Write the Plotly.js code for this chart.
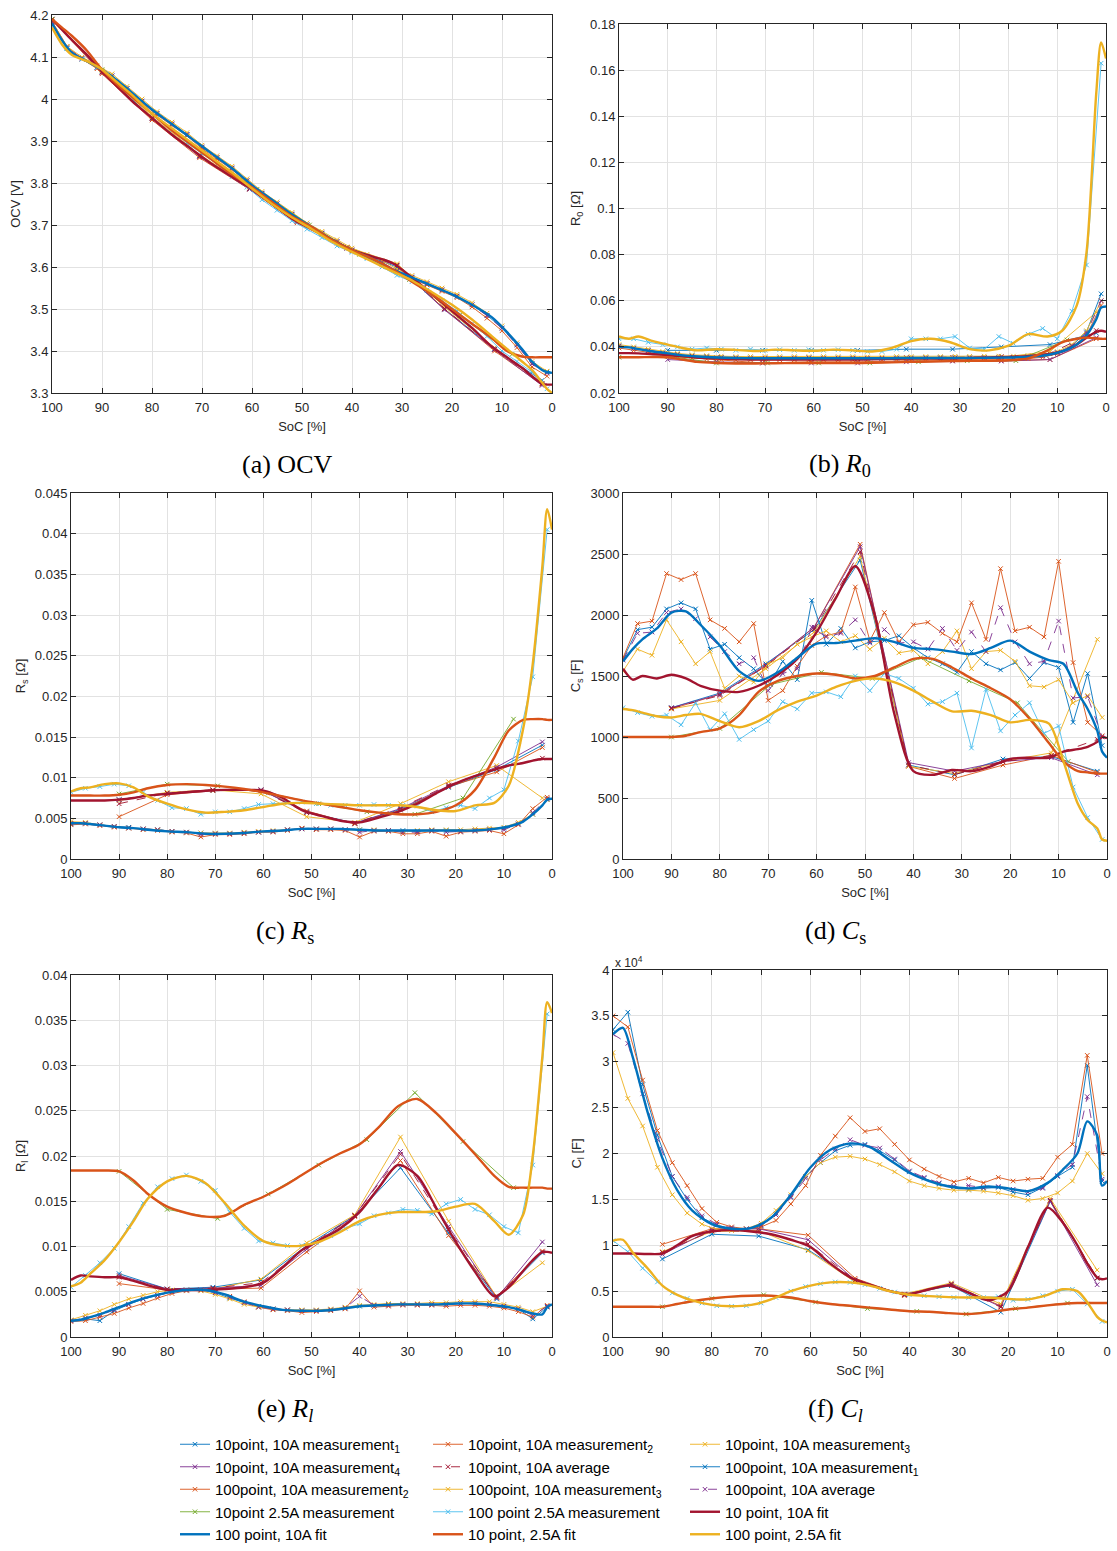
<!DOCTYPE html>
<html>
<head>
<meta charset="utf-8">
<script src="https://cdn.plot.ly/plotly-3.0.1.min.js"></script>
<style>html,body{margin:0;padding:0;background:#fff;}#chart{width:1117px;height:1551px;}</style>
</head>
<body>
<div id="chart"></div>
<script>
// ---------------- shared x (SoC) grids ----------------
const SOC100 = [100,97,94,91,88,85,82,79,76,73,70,67,64,61,58,55,52,49,46,43,40,37,34,31,28,25,22,19,16,13,10,7,4,1];
const SOC10 = [90,80,70.5,60.5,51,41,31.5,21.5,11.5,2];
const SOC10_OCV = [100,90,80,70.5,60.5,51,41,31,21.5,11.5,2];
const SOCG = [100,90,80,69.5,59,48.5,38.5,28.5,18.5,8];
const FITX = [100,98,96,93,90,87,84,80,76,72,68,64,60,56,52,48,44,40,36,32,28,24,20,16,12,9,6,4,2,1,0];

const SERIES_NAMES = [
  '10point, 10A measurement<sub>1</sub>','10point, 10A measurement<sub>2</sub>','10point, 10A measurement<sub>3</sub>',
  '10point, 10A measurement<sub>4</sub>','10point, 10A average','100point, 10A measurement<sub>1</sub>',
  '100point, 10A measurement<sub>2</sub>','100point, 10A measurement<sub>3</sub>','100point, 10A average',
  '10point 2.5A measurement','100 point 2.5A measurement','10 point, 10A fit',
  '100 point, 10A fit','10 point, 2.5A fit','100 point, 2.5A fit'
];

// ---------------- (a) OCV ----------------
const ocv_p10_m1 = [4.190,4.065,3.955,3.865,3.787,3.710,3.645,3.600,3.500,3.405,3.330];
const ocv_p10_m2 = [4.190,4.060,3.950,3.860,3.785,3.705,3.645,3.605,3.500,3.400,3.320];
const ocv_p10_m3 = [4.188,4.068,3.958,3.868,3.790,3.712,3.648,3.608,3.505,3.408,3.322];
const ocv_p10_m4 = [4.190,4.063,3.953,3.863,3.785,3.708,3.645,3.603,3.498,3.403,3.318];
const ocv_p10_avg = [4.190,4.064,3.954,3.864,3.787,3.709,3.646,3.604,3.501,3.404,3.322];
const ocv_p100_m1 = [4.180,4.120,4.095,4.075,4.055,4.025,3.995,3.965,3.940,3.915,3.885,3.860,3.835,3.805,3.775,3.750,3.725,3.700,3.680,3.660,3.640,3.625,3.610,3.590,3.575,3.560,3.545,3.530,3.510,3.485,3.455,3.415,3.370,3.350];
const ocv_p100_m2 = [4.185,4.125,4.095,4.072,4.050,4.020,3.990,3.962,3.937,3.912,3.882,3.857,3.832,3.802,3.772,3.747,3.722,3.698,3.677,3.657,3.638,3.622,3.607,3.588,3.572,3.557,3.542,3.527,3.505,3.478,3.448,3.408,3.362,3.340];
const ocv_p100_m3 = [4.185,4.125,4.100,4.080,4.060,4.030,4.000,3.970,3.945,3.920,3.890,3.865,3.840,3.810,3.780,3.755,3.730,3.705,3.685,3.665,3.645,3.630,3.615,3.595,3.580,3.565,3.550,3.535,3.515,3.490,3.460,3.420,3.375,3.352];
const ocv_p100_avg = [4.183,4.122,4.097,4.076,4.055,4.025,3.995,3.966,3.941,3.916,3.886,3.861,3.836,3.806,3.776,3.751,3.726,3.701,3.681,3.661,3.641,3.626,3.611,3.591,3.576,3.561,3.546,3.531,3.510,3.484,3.454,3.414,3.369,3.347];
const ocv_g = [4.190,4.070,3.965,3.872,3.785,3.700,3.630,3.570,3.485,3.392];
const ocv_p100_25A = [4.170,4.120,4.095,4.075,4.050,4.020,3.985,3.955,3.925,3.895,3.870,3.845,3.815,3.790,3.760,3.735,3.710,3.690,3.670,3.650,3.635,3.620,3.600,3.580,3.565,3.545,3.520,3.495,3.465,3.435,3.400,3.375,3.350,3.310];
const ocv_f10_10A = [4.190,4.165,4.140,4.105,4.065,4.030,3.995,3.955,3.915,3.880,3.845,3.815,3.785,3.750,3.715,3.690,3.665,3.640,3.625,3.610,3.575,3.535,3.495,3.455,3.410,3.385,3.360,3.340,3.322,3.320,3.320];
const ocv_f100_10A = [4.180,4.140,4.110,4.090,4.070,4.045,4.015,3.975,3.940,3.905,3.870,3.835,3.795,3.760,3.725,3.695,3.665,3.640,3.620,3.595,3.575,3.555,3.535,3.510,3.480,3.445,3.405,3.375,3.355,3.350,3.348];
const ocv_f10_25A = [4.190,4.170,4.150,4.115,4.070,4.035,4.005,3.965,3.925,3.890,3.855,3.820,3.790,3.755,3.720,3.695,3.665,3.640,3.620,3.595,3.565,3.535,3.500,3.465,3.430,3.400,3.387,3.385,3.385,3.385,3.385];
const ocv_f100_25A = [4.170,4.130,4.105,4.090,4.070,4.040,4.010,3.965,3.930,3.895,3.860,3.825,3.787,3.750,3.718,3.690,3.660,3.636,3.613,3.590,3.568,3.540,3.510,3.475,3.435,3.405,3.375,3.355,3.325,3.310,3.300];

// ---------------- (b) R0 ----------------
const r0_p10_m1 = [0.0385,0.0385,0.0385,0.0385,0.0385,0.0390,0.0390,0.0400,0.0410,0.0460];
const r0_p10_m2 = [0.0360,0.0345,0.0330,0.0335,0.0335,0.0340,0.0340,0.0340,0.0345,0.0435];
const r0_p10_m3 = [0.0360,0.0350,0.0345,0.0345,0.0345,0.0350,0.0350,0.0355,0.0380,0.0550];
const r0_p10_m4 = [0.0345,0.0335,0.0330,0.0330,0.0330,0.0335,0.0338,0.0338,0.0345,0.0440];
const r0_p10_avg = [0.0363,0.0354,0.0348,0.0349,0.0349,0.0354,0.0355,0.0358,0.0370,0.0471];
const r0_p100_m1 = [0.0405,0.0395,0.0385,0.0375,0.0368,0.0362,0.0358,0.0355,0.0353,0.0352,0.0352,0.0352,0.0352,0.0353,0.0352,0.0352,0.0352,0.0351,0.0351,0.0352,0.0352,0.0353,0.0353,0.0353,0.0353,0.0354,0.0354,0.0355,0.0357,0.0362,0.0375,0.0405,0.0465,0.0630];
const r0_p100_m2 = [0.0395,0.0385,0.0375,0.0365,0.0358,0.0352,0.0347,0.0345,0.0344,0.0344,0.0344,0.0344,0.0344,0.0344,0.0344,0.0344,0.0344,0.0344,0.0344,0.0344,0.0344,0.0345,0.0345,0.0345,0.0345,0.0346,0.0346,0.0347,0.0349,0.0355,0.0370,0.0400,0.0450,0.0580];
const r0_p100_m3 = [0.0410,0.0400,0.0390,0.0380,0.0372,0.0366,0.0362,0.0360,0.0358,0.0358,0.0358,0.0358,0.0358,0.0358,0.0358,0.0358,0.0358,0.0357,0.0357,0.0358,0.0358,0.0358,0.0358,0.0359,0.0359,0.0360,0.0360,0.0360,0.0362,0.0367,0.0380,0.0410,0.0470,0.0600];
const r0_p100_avg = [0.0403,0.0393,0.0383,0.0373,0.0366,0.0360,0.0356,0.0353,0.0352,0.0351,0.0351,0.0351,0.0351,0.0352,0.0351,0.0351,0.0351,0.0351,0.0351,0.0351,0.0351,0.0352,0.0352,0.0352,0.0352,0.0353,0.0353,0.0354,0.0356,0.0361,0.0375,0.0405,0.0460,0.0600];
const r0_g = [0.0355,0.0360,0.0330,0.0330,0.0330,0.0330,0.0335,0.0340,0.0340,0.0430];
const r0_p100_25A = [0.0435,0.0435,0.0420,0.0410,0.0400,0.0390,0.0395,0.0390,0.0385,0.0390,0.0385,0.0388,0.0385,0.0388,0.0385,0.0388,0.0385,0.0380,0.0380,0.0390,0.0435,0.0435,0.0435,0.0445,0.0395,0.0390,0.0445,0.0415,0.0455,0.0480,0.0435,0.0555,0.0755,0.1630];
const r0_f10_10A = [0.0373,0.0373,0.0372,0.0368,0.0365,0.0360,0.0354,0.0350,0.0347,0.0345,0.0345,0.0345,0.0345,0.0345,0.0345,0.0346,0.0348,0.0350,0.0350,0.0350,0.0352,0.0354,0.0356,0.0360,0.0368,0.0380,0.0410,0.0440,0.0465,0.0470,0.0465];
const r0_f100_10A = [0.0400,0.0398,0.0390,0.0380,0.0372,0.0363,0.0358,0.0354,0.0352,0.0351,0.0351,0.0351,0.0351,0.0351,0.0351,0.0351,0.0351,0.0352,0.0352,0.0352,0.0352,0.0353,0.0354,0.0357,0.0365,0.0380,0.0410,0.0450,0.0520,0.0570,0.0575];
const r0_f10_25A = [0.0355,0.0355,0.0355,0.0356,0.0355,0.0345,0.0335,0.0330,0.0328,0.0328,0.0329,0.0330,0.0330,0.0330,0.0330,0.0331,0.0333,0.0335,0.0336,0.0338,0.0340,0.0340,0.0342,0.0350,0.0385,0.0420,0.0435,0.0440,0.0437,0.0435,0.0435];
const r0_f100_25A = [0.0445,0.0435,0.0445,0.0425,0.0410,0.0395,0.0385,0.0390,0.0387,0.0382,0.0388,0.0385,0.0383,0.0388,0.0385,0.0380,0.0395,0.0425,0.0435,0.0420,0.0390,0.0385,0.0405,0.0455,0.0445,0.0470,0.0580,0.0810,0.1500,0.1720,0.1650];

// ---------------- (c) Rs ----------------
const rs_p10_m1 = [0.0073,0.0081,0.0084,0.0085,0.0058,0.0044,0.0061,0.0088,0.0110,0.0140];
const rs_p10_m2 = [0.0052,0.0079,0.0084,0.0085,0.0059,0.0043,0.0060,0.0089,0.0107,0.0137];
const rs_p10_m3 = [0.0072,0.0082,0.0085,0.0080,0.0052,0.0045,0.0068,0.0095,0.0115,0.0075];
const rs_p10_m4 = [0.0073,0.0081,0.0085,0.0085,0.0057,0.0044,0.0062,0.0090,0.0113,0.0144];
const rs_p10_avg = [0.0068,0.0081,0.0085,0.0084,0.0057,0.0044,0.0063,0.0091,0.0111,0.0124];
const rs_p100_m1 = [0.0043,0.0044,0.0042,0.0040,0.0039,0.0037,0.0036,0.0034,0.0033,0.0032,0.0031,0.0031,0.0032,0.0033,0.0034,0.0036,0.0037,0.0037,0.0037,0.0036,0.0036,0.0035,0.0035,0.0035,0.0034,0.0035,0.0035,0.0034,0.0035,0.0036,0.0038,0.0043,0.0055,0.0073];
const rs_p100_m2 = [0.0042,0.0043,0.0041,0.0039,0.0038,0.0036,0.0035,0.0033,0.0032,0.0027,0.0030,0.0030,0.0031,0.0033,0.0033,0.0035,0.0038,0.0036,0.0036,0.0035,0.0027,0.0034,0.0034,0.0031,0.0031,0.0034,0.0028,0.0033,0.0034,0.0035,0.0031,0.0042,0.0062,0.0076];
const rs_p100_m3 = [0.0046,0.0045,0.0042,0.0040,0.0038,0.0037,0.0036,0.0034,0.0033,0.0032,0.0032,0.0032,0.0033,0.0034,0.0035,0.0036,0.0037,0.0037,0.0037,0.0036,0.0036,0.0036,0.0035,0.0034,0.0035,0.0036,0.0036,0.0036,0.0037,0.0038,0.0039,0.0045,0.0055,0.0073];
const rs_p100_avg = [0.0044,0.0044,0.0042,0.0040,0.0038,0.0037,0.0036,0.0034,0.0033,0.0030,0.0031,0.0031,0.0032,0.0033,0.0034,0.0036,0.0037,0.0037,0.0037,0.0036,0.0033,0.0035,0.0035,0.0033,0.0033,0.0035,0.0033,0.0034,0.0035,0.0036,0.0036,0.0043,0.0057,0.0074];
const rs_g = [null,0.0080,0.0092,0.0090,0.0081,0.0068,0.0058,0.0055,0.0075,0.0172];
const rs_p100_25A = [0.0082,0.0087,0.0089,0.0092,0.0090,0.0082,0.0072,0.0063,0.0062,0.0055,0.0058,0.0058,0.0062,0.0067,0.0068,0.0069,0.0070,0.0068,0.0066,0.0066,0.0066,0.0067,0.0066,0.0066,0.0065,0.0058,0.0063,0.0066,0.0062,0.0075,0.0085,0.0145,0.0224,0.0405];
const rs_f10_10A = [0.0072,0.0072,0.0072,0.0072,0.0073,0.0075,0.0078,0.0080,0.0082,0.0084,0.0085,0.0085,0.0084,0.0075,0.0060,0.0053,0.0047,0.0045,0.0051,0.0058,0.0068,0.0081,0.0093,0.0102,0.0110,0.0115,0.0118,0.0121,0.0123,0.0123,0.0123];
const rs_f100_10A = [0.0044,0.0044,0.0043,0.0041,0.0039,0.0038,0.0036,0.0034,0.0033,0.0031,0.0031,0.0032,0.0034,0.0035,0.0037,0.0037,0.0037,0.0036,0.0035,0.0035,0.0035,0.0035,0.0035,0.0035,0.0037,0.0040,0.0046,0.0055,0.0066,0.0073,0.0074];
const rs_f10_25A = [0.0078,0.0078,0.0078,0.0078,0.0079,0.0082,0.0087,0.0091,0.0092,0.0091,0.0089,0.0086,0.0082,0.0077,0.0072,0.0068,0.0064,0.0060,0.0057,0.0055,0.0055,0.0058,0.0066,0.0085,0.0125,0.0158,0.0171,0.0172,0.0172,0.0171,0.0171];
const rs_f100_25A = [0.0083,0.0087,0.0088,0.0092,0.0093,0.0088,0.0077,0.0068,0.0061,0.0057,0.0058,0.0060,0.0064,0.0068,0.0069,0.0068,0.0067,0.0066,0.0066,0.0066,0.0064,0.0060,0.0059,0.0066,0.0069,0.0090,0.0160,0.0240,0.0360,0.0430,0.0405];

// ---------------- (d) Cs ----------------
const cs_p10_m1 = [1240,1360,1600,1880,2450,770,690,820,840,720];
const cs_p10_m2 = [1230,1350,1580,1900,2580,760,660,770,850,710];
const cs_p10_m3 = [1230,1300,1560,1860,2480,760,700,800,870,1800];
const cs_p10_m4 = [1240,1350,1590,1900,2560,790,720,800,830,690];
const cs_p10_avg = [1235,1340,1582,1885,2518,770,692,798,848,980];
const cs_p100_m1 = [1640,1880,1900,2050,2100,2050,1720,1760,1650,1560,1420,1620,1470,2120,1760,1890,1730,1780,1790,1830,1730,1650,1600,1530,1700,1600,1550,1610,1480,1610,1570,1120,1520,930];
const cs_p100_m2 = [1650,1930,1950,2340,2290,2340,1960,1890,1780,1930,1300,1380,1580,1750,1830,1860,2230,1790,2020,1780,1920,1940,1850,1780,2100,1800,2380,1870,1900,1820,2440,1610,1120,1010];
const cs_p100_m3 = [1540,1720,1670,1960,1780,1600,1700,1400,1500,1450,1600,1650,1760,1820,1870,1780,1830,1720,1810,1690,1710,1600,1700,1870,1560,1700,1710,1620,1420,1410,1470,1280,1340,1160];
const cs_p100_avg = [1630,1850,1860,2020,2050,1970,1820,1700,1600,1650,1380,1520,1560,1900,1820,1850,1960,1770,1880,1770,1780,1720,1890,1710,1860,1700,2060,1780,1600,1620,1950,1320,1330,1000];
const cs_g = [null,1000,1070,1430,1530,1480,1650,1460,1280,800];
const cs_p100_25A = [1240,1200,1170,1180,1100,1280,1060,1190,980,1060,1130,1290,1230,1360,1370,1330,1500,1380,1520,1480,1400,1270,1290,1360,910,1390,1050,1180,1280,1030,1090,590,340,160];
const cs_f10_10A = [1560,1470,1500,1480,1510,1480,1420,1380,1370,1420,1510,1640,1860,2140,2400,2000,1200,720,690,730,720,760,820,830,830,880,900,920,960,1000,990];
const cs_f100_10A = [1620,1720,1800,1890,2020,2030,1920,1750,1540,1460,1530,1650,1765,1770,1790,1810,1780,1730,1720,1700,1680,1730,1790,1700,1630,1600,1360,1230,1050,880,830];
const cs_f10_25A = [1000,1000,1000,1000,1000,1010,1040,1070,1180,1370,1460,1500,1520,1510,1480,1500,1570,1640,1640,1570,1480,1400,1310,1150,950,800,720,710,700,700,700];
const cs_f100_25A = [1230,1220,1200,1170,1160,1180,1190,1130,1080,1130,1220,1290,1340,1410,1460,1480,1450,1380,1290,1210,1215,1180,1120,1140,1110,800,450,320,250,160,150];

// ---------------- (e) Rl ----------------
const rl_p10_m1 = [0.0070,0.0053,0.0055,0.0063,0.0101,0.0134,0.0187,0.0115,0.0042,0.0093];
const rl_p10_m2 = [0.0059,0.0052,0.0053,0.0054,0.0094,0.0133,0.0195,0.0112,0.0045,0.0095];
const rl_p10_m3 = [0.0067,0.0052,0.0053,0.0064,0.0104,0.0135,0.0221,0.0128,0.0044,0.0082];
const rl_p10_m4 = [0.0068,0.0053,0.0054,0.0057,0.0097,0.0134,0.0205,0.0122,0.0043,0.0105];
const rl_p10_avg = [0.0066,0.0053,0.0054,0.0060,0.0099,0.0134,0.0202,0.0119,0.0044,0.0094];
const rl_p100_m1 = [0.0018,0.0020,0.0018,0.0029,0.0036,0.0042,0.0046,0.0050,0.0052,0.0052,0.0049,0.0043,0.0038,0.0034,0.0031,0.0030,0.0029,0.0029,0.0030,0.0032,0.0034,0.0035,0.0036,0.0036,0.0036,0.0036,0.0036,0.0037,0.0037,0.0036,0.0034,0.0031,0.0020,0.0033];
const rl_p100_m2 = [0.0017,0.0018,0.0022,0.0026,0.0032,0.0037,0.0043,0.0048,0.0051,0.0052,0.0050,0.0045,0.0039,0.0033,0.0030,0.0029,0.0027,0.0028,0.0029,0.0031,0.0051,0.0033,0.0034,0.0035,0.0035,0.0035,0.0034,0.0035,0.0035,0.0034,0.0032,0.0028,0.0022,0.0035];
const rl_p100_m3 = [0.0019,0.0024,0.0029,0.0036,0.0042,0.0046,0.0050,0.0052,0.0052,0.0051,0.0047,0.0042,0.0036,0.0033,0.0031,0.0030,0.0030,0.0030,0.0031,0.0033,0.0035,0.0036,0.0037,0.0037,0.0037,0.0038,0.0038,0.0039,0.0039,0.0039,0.0036,0.0033,0.0028,0.0034];
const rl_p100_avg = [0.0018,0.0021,0.0024,0.0030,0.0036,0.0042,0.0046,0.0050,0.0052,0.0052,0.0049,0.0044,0.0038,0.0033,0.0031,0.0030,0.0029,0.0029,0.0030,0.0032,0.0045,0.0035,0.0035,0.0036,0.0036,0.0036,0.0036,0.0037,0.0037,0.0036,0.0034,0.0031,0.0024,0.0034];
const rl_g = [null,0.0183,0.0141,0.0131,0.0158,0.0190,0.0218,0.0270,0.0216,0.0165];
const rl_p100_25A = [0.0055,0.0068,0.0082,0.0098,0.0122,0.0148,0.0166,0.0175,0.0179,0.0172,0.0162,0.0138,0.0120,0.0106,0.0104,0.0101,0.0101,0.0104,0.0112,0.0120,0.0125,0.0134,0.0137,0.0141,0.0140,0.0136,0.0147,0.0152,0.0141,0.0135,0.0122,0.0115,0.0190,0.0357];
const rl_f10_10A = [0.0063,0.0068,0.0067,0.0066,0.0066,0.0062,0.0057,0.0052,0.0052,0.0052,0.0053,0.0055,0.0060,0.0077,0.0096,0.0108,0.0120,0.0138,0.0165,0.0190,0.0178,0.0142,0.0105,0.0072,0.0045,0.0055,0.0073,0.0085,0.0094,0.0094,0.0093];
const rl_f100_10A = [0.0018,0.0019,0.0022,0.0027,0.0033,0.0039,0.0044,0.0049,0.0052,0.0052,0.0047,0.0039,0.0034,0.0030,0.0029,0.0029,0.0031,0.0034,0.0035,0.0036,0.0036,0.0036,0.0037,0.0037,0.0035,0.0033,0.0029,0.0026,0.0025,0.0033,0.0036];
const rl_f10_25A = [0.0184,0.0184,0.0184,0.0184,0.0183,0.0173,0.0158,0.0144,0.0137,0.0133,0.0134,0.0146,0.0155,0.0166,0.0179,0.0192,0.0203,0.0213,0.0232,0.0255,0.0263,0.0247,0.0225,0.0202,0.0178,0.0166,0.0165,0.0165,0.0165,0.0164,0.0164];
const rl_f100_25A = [0.0056,0.0060,0.0070,0.0085,0.0105,0.0128,0.0153,0.0172,0.0178,0.0170,0.0148,0.0123,0.0106,0.0101,0.0101,0.0106,0.0116,0.0128,0.0135,0.0138,0.0138,0.0139,0.0144,0.0147,0.0128,0.0113,0.0135,0.0200,0.0310,0.0370,0.0358];

// ---------------- (f) Cl ----------------
const cl_p10_m1 = [8500,11200,11000,9500,6200,4600,5600,2700,14800,6400];
const cl_p10_m2 = [10100,11800,11800,11100,6400,4500,5700,3400,14900,6400];
const cl_p10_m3 = [9300,11500,11600,9400,6000,4700,5900,3600,15100,7300];
const cl_p10_m4 = [9000,11700,11800,10600,6200,4600,5800,3300,14800,5700];
const cl_p10_avg = [9225,11550,11550,10150,6200,4600,5750,3250,14900,6450];
const cl_p100_m1 = [33500,35400,27500,22000,17500,15000,13000,12200,11800,11700,12100,13500,15300,17500,19000,20300,20900,21000,20300,19300,18000,17300,16700,16400,16100,16200,16300,15800,15500,16300,17500,18500,29600,17000];
const cl_p100_m2 = [35000,33800,28000,22500,19000,16500,14000,12500,12000,11800,12000,12700,14500,16500,19800,21900,23900,22400,22700,21000,19300,18300,17500,16900,17300,16800,17400,17000,17200,17300,19600,21000,30700,20000];
const cl_p100_m3 = [31000,26000,23000,18500,15500,13500,12300,11700,11600,11800,12400,13800,15500,17500,19000,19600,19700,19400,18800,18000,17000,16500,16200,16000,16000,15900,15700,15400,14900,15100,15700,17000,20000,17800];
const cl_p100_avg = [33000,32000,26500,21500,17500,15200,13200,12300,11900,11800,12200,13300,15200,17300,19300,20500,21500,20900,20600,19400,18100,17400,16800,16400,16500,16300,16400,16100,15800,16200,17600,18800,26200,17200];
const cl_g = [null,3300,4200,4600,3800,3100,2800,2500,3100,3700];
const cl_p100_25A = [10500,9300,7500,6000,4800,4200,3700,3400,3350,3400,3700,4300,5000,5500,5800,6000,5950,5700,5300,4900,4600,4500,4400,4300,4300,4300,4400,4000,4100,4500,5000,5200,3600,1700];
const cl_f10_10A = [9100,9100,9100,9050,9100,10000,11000,11500,11650,11500,11200,10600,9800,8000,6500,5700,5000,4700,5200,5600,4800,4000,5000,9800,14100,12500,10000,8000,6500,6300,6400];
const cl_f100_10A = [33000,33700,30500,24500,19500,16000,13800,12300,11800,11900,13000,15500,18500,20400,21100,20700,19300,17900,17000,16400,16200,16400,16200,15900,16800,18200,20000,23500,22000,16500,17000];
const cl_f10_25A = [3300,3300,3300,3300,3300,3600,3900,4200,4400,4500,4500,4300,3900,3600,3400,3200,3000,2800,2750,2600,2500,2700,3000,3200,3450,3600,3700,3700,3700,3700,3700];
const cl_f100_25A = [10500,10600,9200,7500,5600,4600,4000,3500,3350,3500,4100,5000,5600,5950,5950,5600,5000,4600,4450,4350,4300,4300,4150,4100,4600,5200,5000,3800,2200,1800,1600];

const CL_TICKVALS = [0,5000,10000,15000,20000,25000,30000,35000,40000];
const CL_TICKTEXT = ['0','0.5','1','1.5','2','2.5','3','3.5','4'];

// ---------------- styling ----------------
const COL = ['#0072BD','#D95319','#EDB120','#7E2F8E','#A2142F','#0072BD','#D95319','#EDB120','#7E2F8E','#77AC30','#4DBEEE','#A2142F','#0072BD','#D95319','#EDB120'];
const FONT = 'Liberation Sans, Arial, Helvetica, sans-serif';
const SERIF = 'Liberation Serif, Times New Roman, serif';
const TXT = '#262626';

function panelSeries(p, x10) {
  return [
    [x10, p[0]],[x10, p[1]],[x10, p[2]],[x10, p[3]],[x10, p[4]],
    [SOC100, p[5]],[SOC100, p[6]],[SOC100, p[7]],[SOC100, p[8]],
    [SOCG, p[9]],[SOC100, p[10]],
    [FITX, p[11]],[FITX, p[12]],[FITX, p[13]],[FITX, p[14]]
  ];
}

const panels = [
  {ax:['x','y'], x10:SOC10_OCV, ys:[ocv_p10_m1,ocv_p10_m2,ocv_p10_m3,ocv_p10_m4,ocv_p10_avg,ocv_p100_m1,ocv_p100_m2,ocv_p100_m3,ocv_p100_avg,ocv_g,ocv_p100_25A,ocv_f10_10A,ocv_f100_10A,ocv_f10_25A,ocv_f100_25A]},
  {ax:['x2','y2'], x10:SOC10, ys:[r0_p10_m1,r0_p10_m2,r0_p10_m3,r0_p10_m4,r0_p10_avg,r0_p100_m1,r0_p100_m2,r0_p100_m3,r0_p100_avg,r0_g,r0_p100_25A,r0_f10_10A,r0_f100_10A,r0_f10_25A,r0_f100_25A]},
  {ax:['x3','y3'], x10:SOC10, ys:[rs_p10_m1,rs_p10_m2,rs_p10_m3,rs_p10_m4,rs_p10_avg,rs_p100_m1,rs_p100_m2,rs_p100_m3,rs_p100_avg,rs_g,rs_p100_25A,rs_f10_10A,rs_f100_10A,rs_f10_25A,rs_f100_25A]},
  {ax:['x4','y4'], x10:SOC10, ys:[cs_p10_m1,cs_p10_m2,cs_p10_m3,cs_p10_m4,cs_p10_avg,cs_p100_m1,cs_p100_m2,cs_p100_m3,cs_p100_avg,cs_g,cs_p100_25A,cs_f10_10A,cs_f100_10A,cs_f10_25A,cs_f100_25A]},
  {ax:['x5','y5'], x10:SOC10, ys:[rl_p10_m1,rl_p10_m2,rl_p10_m3,rl_p10_m4,rl_p10_avg,rl_p100_m1,rl_p100_m2,rl_p100_m3,rl_p100_avg,rl_g,rl_p100_25A,rl_f10_10A,rl_f100_10A,rl_f10_25A,rl_f100_25A]},
  {ax:['x6','y6'], x10:SOC10, ys:[cl_p10_m1,cl_p10_m2,cl_p10_m3,cl_p10_m4,cl_p10_avg,cl_p100_m1,cl_p100_m2,cl_p100_m3,cl_p100_avg,cl_g,cl_p100_25A,cl_f10_10A,cl_f100_10A,cl_f10_25A,cl_f100_25A]}
];

const LEGENDS = ['legend','legend2','legend3'];
const traces = [];
panels.forEach((pn, pi) => {
  const ser = panelSeries(pn.ys, pn.x10);
  ser.forEach((s, i) => {
    const c = COL[i];
    const isFit = i >= 11;
    const isAvg = (i === 4 || i === 8);
    const t = {
      type:'scatter', x:s[0], y:s[1], xaxis:pn.ax[0], yaxis:pn.ax[1],
      name:SERIES_NAMES[i], legend:LEGENDS[i % 3], showlegend:(pi === 0),
      hoverinfo:'skip'
    };
    if (isFit) {
      t.mode = 'lines';
      t.line = {color:c, width:2.4, shape:'spline', smoothing:0.8};
    } else {
      t.mode = 'lines+markers';
      t.line = {color:c, width:0.9, dash:isAvg ? 'dash' : 'solid'};
      t.marker = {symbol:'x-thin-open', size:4.5, color:c, line:{width:1, color:c}};
    }
    traces.push(t);
  });
});

// ---------------- layout ----------------
const W = 1117, H = 1551;
const px = v => v / W;
const py = v => 1 - v / H;

function xAxis(l, r, anchor) {
  return {
    domain:[px(l), px(r)], anchor:anchor, range:[100, 0], tick0:0, dtick:10,
    ticks:'inside', ticklen:5, tickcolor:TXT, showline:true, linecolor:TXT, linewidth:1,
    mirror:'allticks', showgrid:true, gridcolor:'#e2e2e2', gridwidth:1, zeroline:false,
    tickfont:{family:FONT, size:13, color:TXT}, ticklabelstandoff:2, automargin:false,
    title:{text:'SoC [%]', font:{family:FONT, size:13, color:TXT}, standoff:8}
  };
}
function yAxis(t, b, anchor, range, dtick, title) {
  return {
    domain:[py(b), py(t)], anchor:anchor, range:range, tick0:0, dtick:dtick,
    ticks:'inside', ticklen:5, tickcolor:TXT, showline:true, linecolor:TXT, linewidth:1,
    mirror:'allticks', showgrid:true, gridcolor:'#e2e2e2', gridwidth:1, zeroline:false,
    tickfont:{family:FONT, size:13, color:TXT}, automargin:false,
    title:{text:title, font:{family:FONT, size:13, color:TXT}, standoff:6}
  };
}

const yF = yAxis(970, 1337, 'x6', [0, 40000], 5000, 'C<sub>l</sub> [F]');
yF.tickmode = 'array'; yF.tickvals = CL_TICKVALS; yF.ticktext = CL_TICKTEXT;

// legends anchored at the page bottom so they never push the margins
function legendAt(xpx) {
  return {x:px(xpx), y:0, xanchor:'left', yanchor:'bottom', orientation:'v',
    font:{family:FONT, size:15, color:'#000'}, bgcolor:'rgba(0,0,0,0)', borderwidth:0,
    itemwidth:30, tracegroupgap:0};
}

function caption(xc, yc, text) {
  return {xref:'paper', yref:'paper', x:px(xc), y:py(yc), text:text, showarrow:false,
    xanchor:'center', yanchor:'middle', font:{family:SERIF, size:26, color:'#000'}};
}

const layout = {
  width:W, height:H, margin:{l:0, r:0, t:0, b:0, autoexpand:false},
  paper_bgcolor:'#fff', plot_bgcolor:'#fff', showlegend:true,
  xaxis: xAxis(52, 552, 'y'),
  yaxis: yAxis(15, 393, 'x', [3.3, 4.2], 0.1, 'OCV [V]'),
  xaxis2: xAxis(619, 1106, 'y2'),
  yaxis2: yAxis(24, 393, 'x2', [0.02, 0.18], 0.02, 'R<sub>0</sub> [<i>Ω</i>]'),
  xaxis3: xAxis(71, 552, 'y3'),
  yaxis3: yAxis(493, 859, 'x3', [0, 0.045], 0.005, 'R<sub>s</sub> [<i>Ω</i>]'),
  xaxis4: xAxis(623, 1107, 'y4'),
  yaxis4: yAxis(493, 859, 'x4', [0, 3000], 500, 'C<sub>s</sub> [F]'),
  xaxis5: xAxis(71, 552, 'y5'),
  yaxis5: yAxis(975, 1337, 'x5', [0, 0.04], 0.005, 'R<sub>l</sub> [<i>Ω</i>]'),
  xaxis6: xAxis(613, 1107, 'y6'),
  yaxis6: yF,
  legend: legendAt(175),
  legend2: legendAt(428),
  legend3: legendAt(685),
  annotations: [
    caption(287, 465, '(a) OCV'),
    caption(840, 465, '(b) <i>R</i><sub>0</sub>'),
    caption(285, 932, '(c) <i>R</i><sub>s</sub>'),
    caption(835, 932, '(d) <i>C</i><sub>s</sub>'),
    caption(285, 1410, '(e) <i>R</i><sub><i>l</i></sub>'),
    caption(835, 1410, '(f) <i>C</i><sub><i>l</i></sub>'),
    {xref:'paper', yref:'paper', x:px(613), y:py(962), xanchor:'left', yanchor:'middle',
     text:'x 10<sup>4</sup>', showarrow:false, font:{family:FONT, size:12, color:TXT}}
  ]
};

Plotly.newPlot('chart', traces, layout, {staticPlot:true, displayModeBar:false});
</script>
</body>
</html>
